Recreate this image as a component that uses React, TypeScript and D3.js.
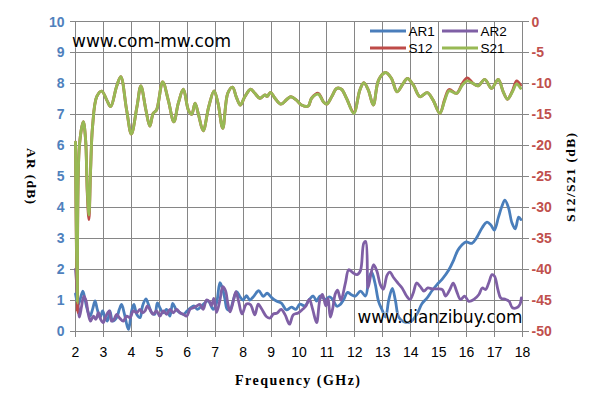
import React from 'react';
import * as d3 from 'd3';

// frequency (GHz), axial ratio (dB)
const ar1: [number, number][] = [
  [2.0, 1.2], [2.1, 0.85], [2.26, 1.29], [2.34, 1.02], [2.42, 0.7], [2.52, 0.48], [2.61, 0.7], [2.7, 0.97],
  [2.78, 0.7], [2.88, 0.43], [2.97, 0.65], [3.06, 0.43], [3.14, 0.32], [3.23, 0.65], [3.33, 0.32], [3.47, 0.43],
  [3.57, 0.7], [3.65, 0.86], [3.74, 0.59], [3.85, 0.16], [3.9, 0.05], [4.01, 0.65], [4.09, 0.86], [4.19, 0.54],
  [4.31, 0.43], [4.4, 0.81], [4.52, 1.04], [4.61, 0.86], [4.73, 0.59], [4.84, 0.54], [4.93, 0.91], [5.02, 0.75],
  [5.14, 0.59], [5.26, 0.7], [5.38, 0.48], [5.48, 0.89], [5.6, 0.7], [5.74, 0.59], [5.86, 0.54], [6.0, 0.65],
  [6.12, 0.75], [6.24, 0.81], [6.36, 0.7], [6.52, 0.81], [6.63, 0.91], [6.75, 0.97], [6.93, 0.7], [7.05, 0.91],
  [7.17, 1.56], [7.27, 1.34], [7.35, 1.02], [7.43, 0.7], [7.53, 0.68], [7.65, 1.0], [7.77, 1.27], [7.89, 1.1],
  [8.0, 1.0], [8.12, 1.14], [8.24, 1.0], [8.36, 1.1], [8.56, 1.3], [8.72, 1.12], [8.86, 1.22], [9.02, 1.08],
  [9.19, 0.97], [9.37, 0.9], [9.55, 0.68], [9.73, 0.77], [9.89, 0.7], [10.03, 0.87], [10.21, 0.81], [10.37, 1.02],
  [10.51, 1.13], [10.63, 0.97], [10.75, 1.13], [10.93, 1.02], [11.1, 1.1], [11.2, 1.02], [11.36, 0.8], [11.48, 0.86],
  [11.6, 1.02], [11.74, 1.25], [11.86, 1.18], [12.02, 1.13], [12.2, 1.29], [12.38, 1.13], [12.5, 1.7], [12.6, 1.9],
  [12.72, 1.55], [12.85, 0.95], [12.98, 0.67], [13.1, 0.45], [13.21, 0.99], [13.34, 1.38], [13.45, 0.99], [13.57, 0.45],
  [13.75, 0.3], [14.0, 0.3], [14.23, 0.56], [14.4, 0.88], [14.58, 1.06], [14.76, 1.3], [14.94, 1.5], [15.12, 1.67],
  [15.36, 1.97], [15.54, 2.3], [15.68, 2.6], [15.83, 2.78], [15.98, 2.88], [16.19, 2.83], [16.35, 3.0], [16.55, 3.33],
  [16.73, 3.52], [16.87, 3.42], [16.99, 3.26], [17.14, 3.68], [17.26, 4.02], [17.37, 4.23], [17.5, 3.98], [17.62, 3.5],
  [17.74, 3.3], [17.86, 3.68], [17.94, 3.6],
];

const ar2: [number, number][] = [
  [2.0, 2.0], [2.07, 1.2], [2.14, 0.45], [2.22, 0.81], [2.3, 1.13], [2.38, 0.97], [2.46, 0.54], [2.54, 0.32],
  [2.64, 0.48], [2.73, 0.38], [2.82, 0.59], [2.9, 0.38], [2.99, 0.27], [3.09, 0.48], [3.21, 0.65], [3.29, 0.32],
  [3.38, 0.38], [3.47, 0.54], [3.57, 0.43], [3.71, 0.32], [3.83, 0.48], [3.95, 0.43], [4.07, 0.65], [4.19, 0.59],
  [4.31, 0.7], [4.4, 0.59], [4.49, 0.65], [4.57, 0.81], [4.66, 0.7], [4.78, 0.54], [4.9, 0.65], [5.02, 0.48],
  [5.14, 0.65], [5.26, 0.54], [5.38, 0.7], [5.5, 0.59], [5.62, 0.7], [5.74, 0.59], [5.86, 0.54], [5.98, 0.48],
  [6.1, 0.7], [6.22, 0.75], [6.34, 0.81], [6.45, 0.86], [6.57, 0.7], [6.69, 1.0], [6.79, 0.95], [6.87, 0.82],
  [6.95, 1.05], [7.05, 0.6], [7.17, 1.0], [7.27, 1.43], [7.37, 1.3], [7.45, 0.9], [7.53, 0.62], [7.63, 0.9],
  [7.74, 1.27], [7.84, 0.95], [7.96, 0.55], [8.12, 0.87], [8.26, 0.85], [8.42, 0.52], [8.54, 0.87], [8.66, 0.72],
  [8.84, 0.46], [8.97, 0.42], [9.08, 0.55], [9.22, 0.58], [9.36, 0.7], [9.5, 0.53], [9.66, 0.22], [9.79, 0.52],
  [9.97, 0.58], [10.13, 0.7], [10.25, 0.81], [10.37, 1.02], [10.49, 0.7], [10.63, 0.27], [10.75, 1.02], [10.84, 1.18],
  [10.96, 0.81], [11.04, 1.05], [11.12, 0.45], [11.2, 0.7], [11.3, 1.2], [11.38, 1.32], [11.5, 1.0], [11.66, 1.55],
  [11.78, 1.98], [11.93, 1.88], [12.08, 1.82], [12.2, 1.95], [12.32, 2.84], [12.39, 2.89], [12.47, 1.39], [12.56, 1.77],
  [12.67, 2.14], [12.79, 1.93], [12.91, 1.5], [13.02, 1.35], [13.15, 1.8], [13.25, 1.9], [13.39, 1.72], [13.54, 1.55],
  [13.69, 1.39], [13.85, 1.13], [13.97, 1.02], [14.09, 1.23], [14.21, 1.55], [14.33, 1.45], [14.47, 1.29], [14.61, 1.39],
  [14.77, 1.36], [14.95, 1.36], [15.13, 1.34], [15.25, 1.13], [15.4, 1.34], [15.52, 1.55], [15.64, 1.29], [15.78, 1.02],
  [15.93, 1.13], [16.08, 0.96], [16.26, 1.02], [16.44, 1.18], [16.56, 1.39], [16.68, 1.34], [16.79, 1.55], [16.91, 1.82],
  [17.0, 1.77], [17.12, 1.34], [17.22, 1.07], [17.4, 1.02], [17.52, 0.96], [17.64, 0.75], [17.79, 0.75], [17.91, 0.86],
  [17.96, 1.07],
];

// frequency (GHz), transmission (dB)
const s21: [number, number][] = [
  [2.0, -19.5], [2.06, -45.5], [2.14, -20.0], [2.28, -16.2], [2.36, -19.0], [2.42, -27.0], [2.48, -31.25], [2.54, -24.0],
  [2.61, -17.0], [2.76, -12.15], [2.94, -11.25], [3.12, -12.7], [3.26, -13.75], [3.47, -10.5], [3.62, -8.9], [3.83, -14.3],
  [4.0, -18.2], [4.2, -13.75], [4.34, -10.4], [4.52, -14.3], [4.66, -16.9], [4.78, -14.85], [4.9, -14.3], [5.12, -9.75],
  [5.32, -12.7], [5.52, -16.2], [5.68, -13.2], [5.86, -10.95], [6.04, -14.3], [6.16, -15.0], [6.28, -13.2], [6.4, -15.0],
  [6.57, -17.65], [6.77, -13.75], [6.96, -11.2], [7.1, -13.2], [7.27, -17.25], [7.45, -11.6], [7.62, -10.6], [7.76, -12.25],
  [7.9, -13.5], [8.06, -12.15], [8.27, -10.95], [8.42, -11.6], [8.6, -12.4], [8.78, -11.85], [8.86, -12.1], [8.98, -11.45],
  [9.14, -12.4], [9.35, -13.35], [9.56, -12.6], [9.71, -12.15], [9.91, -12.7], [10.09, -13.5], [10.33, -13.65], [10.45, -12.4],
  [10.69, -11.75], [10.87, -12.95], [10.99, -13.35], [11.17, -12.15], [11.35, -10.8], [11.52, -10.95], [11.7, -12.4], [11.96, -14.85],
  [12.18, -11.05], [12.32, -9.9], [12.48, -11.05], [12.66, -13.5], [12.85, -9.45], [13.1, -8.25], [13.31, -9.2], [13.51, -11.35],
  [13.73, -10.0], [13.88, -9.2], [14.09, -10.25], [14.33, -12.15], [14.59, -11.5], [14.8, -12.7], [15.04, -14.85], [15.22, -12.7],
  [15.37, -11.2], [15.64, -11.6], [15.85, -10.25], [16.02, -9.6], [16.23, -10.0], [16.41, -10.4], [16.65, -9.35], [16.89, -10.8],
  [17.13, -9.35], [17.31, -11.35], [17.46, -12.55], [17.64, -11.35], [17.79, -10.1], [17.93, -10.8],
];

const s12: [number, number][] = [
  [2.0, -19.5], [2.06, -47.0], [2.14, -20.0], [2.28, -16.2], [2.36, -19.0], [2.42, -27.5], [2.48, -32.0], [2.54, -24.0],
  [2.61, -17.0], [2.76, -12.15], [2.94, -11.25], [3.12, -12.7], [3.26, -13.75], [3.47, -10.5], [3.62, -8.9], [3.83, -14.3],
  [4.0, -18.2], [4.2, -13.75], [4.34, -10.4], [4.52, -14.3], [4.66, -16.9], [4.78, -14.85], [4.9, -14.3], [5.12, -9.75],
  [5.32, -12.7], [5.52, -16.2], [5.68, -13.2], [5.86, -10.95], [6.04, -14.3], [6.16, -15.0], [6.28, -13.2], [6.4, -15.0],
  [6.57, -17.65], [6.77, -13.75], [6.96, -11.2], [7.1, -13.2], [7.27, -17.25], [7.45, -11.6], [7.62, -10.6], [7.76, -12.25],
  [7.9, -13.5], [8.06, -12.15], [8.27, -10.95], [8.42, -11.6], [8.6, -12.4], [8.78, -11.85], [8.86, -12.1], [8.98, -11.45],
  [9.14, -12.4], [9.35, -13.35], [9.56, -12.6], [9.71, -12.15], [9.91, -12.7], [10.09, -13.5], [10.33, -13.65], [10.45, -12.4],
  [10.69, -11.6], [10.87, -12.95], [10.99, -13.35], [11.17, -12.15], [11.35, -10.8], [11.52, -10.95], [11.7, -12.4], [11.96, -14.7],
  [12.18, -11.05], [12.32, -9.9], [12.48, -11.05], [12.66, -13.5], [12.85, -9.45], [13.1, -8.25], [13.31, -9.2], [13.51, -11.35],
  [13.73, -10.0], [13.88, -9.2], [14.09, -10.25], [14.33, -12.15], [14.59, -11.5], [14.8, -12.7], [15.04, -14.85], [15.22, -12.5],
  [15.37, -11.0], [15.64, -11.6], [15.85, -10.0], [16.02, -9.1], [16.23, -10.0], [16.41, -10.4], [16.65, -9.35], [16.89, -10.8],
  [17.13, -9.35], [17.31, -11.35], [17.46, -12.55], [17.64, -11.2], [17.79, -9.6], [17.93, -10.3],
];

const freqTicks = [2, 3, 4, 5, 6, 7, 8, 9, 10, 11, 12, 13, 14, 15, 16, 17, 18];
const arTicks = [0, 1, 2, 3, 4, 5, 6, 7, 8, 9, 10];
const sTicks = [0, -5, -10, -15, -20, -25, -30, -35, -40, -45, -50];

const W = 595;
const H = 415;
const grid = '#868686';
const blue = '#4A7EBB';
const purple = '#7F5FA5';
const red = '#BE4B48';
const green = '#98B954';

const App: React.FC = () => {
  const x = d3.scaleLinear().domain([2, 18]).range([75.5, 522.5]);
  const yL = d3.scaleLinear().domain([0, 10]).range([331, 21.5]);
  const yR = d3.scaleLinear().domain([-50, 0]).range([331, 21.5]);

  const lineL = d3.line<[number, number]>()
    .x(d => x(d[0]))
    .y(d => yL(d[1]))
    .curve(d3.curveCatmullRom.alpha(0.5));
  const lineR = d3.line<[number, number]>()
    .x(d => x(d[0]))
    .y(d => yR(d[1]))
    .curve(d3.curveCatmullRom.alpha(0.5));

  const sans = 'Liberation Sans, Arial, sans-serif';
  const serif = 'Liberation Serif, DejaVu Serif, serif';

  const legend = [
    { name: 'AR1', color: blue, lx: 370, row: 0 },
    { name: 'AR2', color: purple, lx: 442, row: 0 },
    { name: 'S12', color: red, lx: 370, row: 1 },
    { name: 'S21', color: green, lx: 442, row: 1 },
  ];

  return (
    <div style={{ position: 'absolute', left: 0, top: 0 }}>
      <svg width={W} height={H} viewBox={`0 0 ${W} ${H}`}>
        <rect x={0} y={0} width={W} height={H} fill="#ffffff" />

        {/* grid */}
        <g stroke={grid} strokeWidth={1} shapeRendering="crispEdges">
          {freqTicks.map(t => (
            <line key={`vx${t}`} x1={x(t)} x2={x(t)} y1={yL(10)} y2={yL(0) + 6} />
          ))}
          {arTicks.map(t => (
            <line key={`hy${t}`} x1={x(2) - 6} x2={x(18)} y1={yL(t)} y2={yL(t)} />
          ))}
          {sTicks.map(t => (
            <line key={`ry${t}`} x1={x(18)} x2={x(18) + 6} y1={yR(t)} y2={yR(t)} />
          ))}
        </g>

        {/* series */}
        <g fill="none" strokeLinejoin="round" strokeLinecap="round">
          <path d={lineL(ar1) || ''} stroke={blue} strokeWidth={2.8} />
          <path d={lineL(ar2) || ''} stroke={purple} strokeWidth={2.8} />
          <path d={lineR(s12) || ''} stroke={red} strokeWidth={2.9} />
          <path d={lineR(s21) || ''} stroke={green} strokeWidth={2.9} />
        </g>

        {/* left axis labels */}
        <g fontFamily={sans} fontWeight="bold" fontSize={14} fill="#4F81BD" textAnchor="end">
          {arTicks.map(t => (
            <text key={`l${t}`} x={64.5} y={yL(t) + 5}>{t}</text>
          ))}
        </g>

        {/* right axis labels */}
        <g fontFamily={sans} fontWeight="bold" fontSize={14} fill="#C0504D" textAnchor="start">
          {sTicks.map(t => (
            <text key={`r${t}`} x={531.5} y={yR(t) + 5}>{t}</text>
          ))}
        </g>

        {/* x axis labels */}
        <g fontFamily={sans} fontSize={14} fill="#000" textAnchor="middle">
          {freqTicks.map(t => (
            <text key={`b${t}`} x={x(t)} y={357}>{t}</text>
          ))}
        </g>

        {/* axis titles */}
        <text
          x={235}
          y={385}
          fontFamily={serif}
          fontWeight="bold"
          fontSize={14}
          textLength={125}
          lengthAdjust="spacing"
          fill="#000"
        >
          Frequency (GHz)
        </text>
        <text
          transform="translate(27,148) rotate(90)"
          fontFamily={serif}
          fontWeight="bold"
          fontSize={13.5}
          textLength={56}
          lengthAdjust="spacing"
          fill="#000"
        >
          AR (dB)
        </text>
        <text
          transform="translate(575,222) rotate(-90)"
          fontFamily={serif}
          fontWeight="bold"
          fontSize={13.5}
          textLength={89}
          lengthAdjust="spacing"
          fill="#000"
        >
          S12/S21 (dB)
        </text>

        {/* legend */}
        <g fontFamily={sans} fontSize={13.5} fill="#000">
          {legend.map(l => {
            const ly = l.row === 0 ? 31 : 48;
            return (
              <g key={l.name}>
                <line x1={l.lx} x2={l.lx + 36} y1={ly} y2={ly} stroke={l.color} strokeWidth={2.8} />
                <text x={l.lx + 38.5} y={ly + 5}>{l.name}</text>
              </g>
            );
          })}
        </g>

        {/* watermarks */}
        <text
          x={72}
          y={46.5}
          fontFamily="DejaVu Sans, Verdana, sans-serif"
          fontSize={17}
          textLength={159}
          lengthAdjust="spacingAndGlyphs"
          fill="#000"
          stroke="#ffffff"
          strokeWidth={0.6}
          paintOrder="stroke"
        >
          www.com-mw.com
        </text>
        <text
          x={357.5}
          y={323}
          fontFamily="DejaVu Sans, Verdana, sans-serif"
          fontSize={17.5}
          textLength={165}
          lengthAdjust="spacingAndGlyphs"
          fill="#000"
          stroke="#ffffff"
          strokeWidth={0.6}
          paintOrder="stroke"
        >
          www.dianzibuy.com
        </text>
      </svg>
    </div>
  );
};

export default App;
